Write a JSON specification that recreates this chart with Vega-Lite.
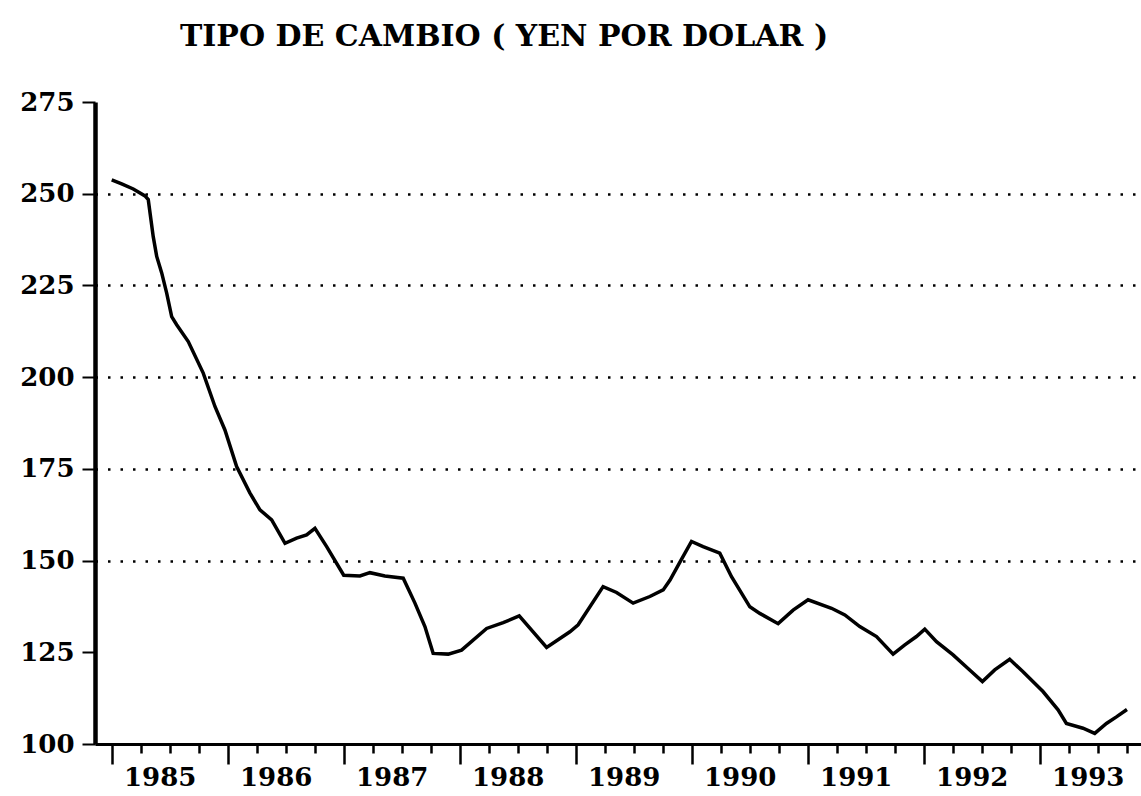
{
  "$schema": "https://vega.github.io/schema/vega-lite/v6.json",
  "width": 1046,
  "height": 642,
  "autosize": {"type": "none"},
  "padding": {"left": 95, "top": 102, "right": 0, "bottom": 52},
  "background": "white",
  "title": {
    "text": "TIPO DE CAMBIO ( YEN POR DOLAR )",
    "anchor": "start",
    "frame": "group",
    "dx": 85,
    "offset": 13,
    "baseline": "alphabetic",
    "font": "DejaVu Serif",
    "fontSize": 30,
    "fontWeight": "bold",
    "color": "black"
  },
  "config": {
    "view": {"stroke": null},
    "axis": {
      "domainColor": "black",
      "tickColor": "black",
      "labelColor": "black",
      "labelFont": "DejaVu Serif",
      "labelFontWeight": "bold",
      "labelFontSize": 26,
      "title": null
    }
  },
  "data": {
    "values": [
      {"fecha": 1985.000, "yen": 253.8},
      {"fecha": 1985.086, "yen": 252.7},
      {"fecha": 1985.186, "yen": 251.3},
      {"fecha": 1985.287, "yen": 249.4},
      {"fecha": 1985.315, "yen": 248.4},
      {"fecha": 1985.358, "yen": 238.3},
      {"fecha": 1985.388, "yen": 232.9},
      {"fecha": 1985.431, "yen": 228.4},
      {"fecha": 1985.474, "yen": 222.9},
      {"fecha": 1985.517, "yen": 216.5},
      {"fecha": 1985.560, "yen": 214.3},
      {"fecha": 1985.660, "yen": 209.7},
      {"fecha": 1985.789, "yen": 201.1},
      {"fecha": 1985.890, "yen": 192.0},
      {"fecha": 1985.976, "yen": 185.6},
      {"fecha": 1986.077, "yen": 175.6},
      {"fecha": 1986.192, "yen": 168.4},
      {"fecha": 1986.278, "yen": 163.8},
      {"fecha": 1986.379, "yen": 161.1},
      {"fecha": 1986.494, "yen": 154.7},
      {"fecha": 1986.594, "yen": 156.1},
      {"fecha": 1986.680, "yen": 157.0},
      {"fecha": 1986.752, "yen": 158.8},
      {"fecha": 1986.853, "yen": 153.8},
      {"fecha": 1987.000, "yen": 146.0},
      {"fecha": 1987.140, "yen": 145.8},
      {"fecha": 1987.226, "yen": 146.7},
      {"fecha": 1987.355, "yen": 145.8},
      {"fecha": 1987.513, "yen": 145.2},
      {"fecha": 1987.614, "yen": 138.4},
      {"fecha": 1987.700, "yen": 132.0},
      {"fecha": 1987.771, "yen": 124.7},
      {"fecha": 1987.901, "yen": 124.5},
      {"fecha": 1988.016, "yen": 125.6},
      {"fecha": 1988.232, "yen": 131.5},
      {"fecha": 1988.375, "yen": 133.1},
      {"fecha": 1988.513, "yen": 134.9},
      {"fecha": 1988.749, "yen": 126.3},
      {"fecha": 1988.950, "yen": 130.6},
      {"fecha": 1989.021, "yen": 132.5},
      {"fecha": 1989.236, "yen": 142.9},
      {"fecha": 1989.352, "yen": 141.3},
      {"fecha": 1989.495, "yen": 138.4},
      {"fecha": 1989.639, "yen": 140.2},
      {"fecha": 1989.754, "yen": 142.0},
      {"fecha": 1989.813, "yen": 144.7},
      {"fecha": 1989.897, "yen": 149.5},
      {"fecha": 1989.998, "yen": 155.2},
      {"fecha": 1990.098, "yen": 153.8},
      {"fecha": 1990.242, "yen": 152.0},
      {"fecha": 1990.343, "yen": 145.6},
      {"fecha": 1990.501, "yen": 137.4},
      {"fecha": 1990.587, "yen": 135.6},
      {"fecha": 1990.745, "yen": 132.8},
      {"fecha": 1990.874, "yen": 136.5},
      {"fecha": 1991.003, "yen": 139.3},
      {"fecha": 1991.205, "yen": 137.0},
      {"fecha": 1991.320, "yen": 135.2},
      {"fecha": 1991.449, "yen": 132.0},
      {"fecha": 1991.593, "yen": 129.3},
      {"fecha": 1991.736, "yen": 124.5},
      {"fecha": 1991.837, "yen": 127.0},
      {"fecha": 1991.937, "yen": 129.3},
      {"fecha": 1992.009, "yen": 131.3},
      {"fecha": 1992.110, "yen": 127.9},
      {"fecha": 1992.253, "yen": 124.3},
      {"fecha": 1992.382, "yen": 120.6},
      {"fecha": 1992.506, "yen": 117.0},
      {"fecha": 1992.612, "yen": 120.2},
      {"fecha": 1992.741, "yen": 123.1},
      {"fecha": 1992.856, "yen": 119.7},
      {"fecha": 1993.028, "yen": 114.3},
      {"fecha": 1993.158, "yen": 109.3},
      {"fecha": 1993.230, "yen": 105.6},
      {"fecha": 1993.373, "yen": 104.3},
      {"fecha": 1993.474, "yen": 102.9},
      {"fecha": 1993.575, "yen": 105.6},
      {"fecha": 1993.661, "yen": 107.4},
      {"fecha": 1993.752, "yen": 109.4}
    ]
  },
  "mark": {"type": "line", "color": "black", "strokeWidth": 3.5, "strokeJoin": "miter", "clip": false},
  "encoding": {
    "x": {
      "field": "fecha",
      "type": "quantitative",
      "scale": {"domain": [1984.856, 1993.873], "nice": false, "zero": false},
      "axis": {
        "values": [1985, 1985.25, 1985.5, 1985.75, 1986, 1986.25, 1986.5, 1986.75, 1987, 1987.25, 1987.5, 1987.75, 1988, 1988.25, 1988.5, 1988.75, 1989, 1989.25, 1989.5, 1989.75, 1990, 1990.25, 1990.5, 1990.75, 1991, 1991.25, 1991.5, 1991.75, 1992, 1992.25, 1992.5, 1992.75, 1993, 1993.25, 1993.5, 1993.75],
        "labelExpr": "datum.value % 1 === 0 ? format(datum.value, 'd') : ''",
        "labelOverlap": false,
        "labelFlush": false,
        "labelOffset": 48,
        "labelPadding": 0,
        "labelBaseline": "top",
        "tickSize": {"condition": {"test": "datum.value % 1 === 0", "value": 20}, "value": 9},
        "tickWidth": 2.5,
        "domainWidth": 3,
        "grid": false
      }
    },
    "y": {
      "field": "yen",
      "type": "quantitative",
      "scale": {"domain": [100, 275], "nice": false, "zero": false},
      "axis": {
        "values": [100, 125, 150, 175, 200, 225, 250, 275],
        "tickSize": 13,
        "tickWidth": 2,
        "labelPadding": 8,
        "domainWidth": 4.5,
        "grid": true,
        "gridColor": "black",
        "gridWidth": 2.5,
        "gridDash": [2.5, 10],
        "gridOpacity": {"condition": {"test": "datum.value >= 150 && datum.value <= 250", "value": 1}, "value": 0}
      }
    }
  }
}
